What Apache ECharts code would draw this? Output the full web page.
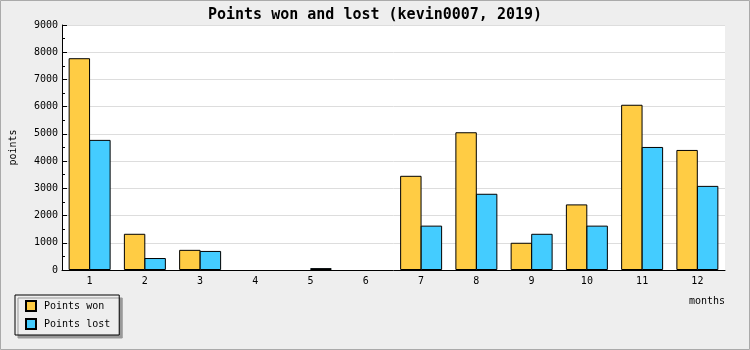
<!DOCTYPE html>
<html>
<head>
<meta charset="utf-8">
<script src="https://cdn.jsdelivr.net/npm/echarts@6/dist/echarts.min.js"></script>
<style>html,body{margin:0;padding:0;background:#eee;}#c{width:750px;height:350px;}</style>
</head>
<body>
<div id="c"></div>
<script>
var months = ['1','2','3','4','5','6','7','8','9','10','11','12'];
var pointsWon = [7780, 1330, 740, 0, 0, 0, 3460, 5060, 1000, 2410, 6070, 4410];
var pointsLost = [4780, 440, 700, 0, 70, 0, 1630, 2800, 1330, 1630, 4520, 3090];
var yTicks = [0, 1000, 2000, 3000, 4000, 5000, 6000, 7000, 8000, 9000];

// zero-height bars are not drawn in the reference
function hideZeros(arr) { return arr.map(function (v) { return v === 0 ? '-' : v; }); }

var FONT = '"DejaVu Sans Mono", monospace';
var chart = echarts.init(document.getElementById('c'), null, {renderer: 'canvas'});
chart.setOption({
  backgroundColor: '#eeeeee',
  animation: false,
  textStyle: {fontFamily: FONT, color: '#000'},
  title: {
    text: 'Points won and lost (kevin0007, 2019)',
    left: 'center', top: 3,
    textStyle: {fontFamily: FONT, fontSize: 15, fontWeight: 'bold', color: '#000'}
  },
  legend: {
    orient: 'vertical',
    left: 15, top: 295,
    padding: [5, 9, 5, 10],
    itemWidth: 10, itemHeight: 10, itemGap: 6,
    icon: 'rect',
    backgroundColor: '#eeeeee',
    borderColor: '#000', borderWidth: 1,
    shadowColor: '#999', shadowBlur: 0, shadowOffsetX: 3, shadowOffsetY: 3,
    textStyle: {fontFamily: FONT, fontSize: 10, lineHeight: 10, color: '#000', padding: [0, 0, 0, 3]},
    data: ['Points won', 'Points lost']
  },
  grid: {left: 61, right: 25, top: 25, bottom: 80, show: true, backgroundColor: '#fff', borderWidth: 0},
  xAxis: {
    type: 'category',
    data: months,
    name: 'months',
    nameLocation: 'end',
    nameGap: 0,
    nameTextStyle: {fontFamily: FONT, fontSize: 10, color: '#000', align: 'right', verticalAlign: 'top', padding: [26, 0, 0, 0]},
    axisLine: {lineStyle: {color: '#000', width: 1}},
    axisTick: {inside: true, length: 5, lineStyle: {color: '#000'}},
    axisLabel: {fontFamily: FONT, fontSize: 10, color: '#000', margin: 6},
    splitLine: {show: false}
  },
  yAxis: {
    type: 'value',
    min: yTicks[0], max: yTicks[yTicks.length - 1], interval: 1000,
    name: 'points',
    nameLocation: 'middle',
    nameGap: 44,
    nameRotate: 90,
    nameTextStyle: {fontFamily: FONT, fontSize: 10, color: '#000'},
    axisLine: {show: true, lineStyle: {color: '#000', width: 1}},
    axisTick: {show: true, inside: true, length: 5, lineStyle: {color: '#000'}},
    minorTick: {show: true, splitNumber: 2, length: 3, lineStyle: {color: '#000'}},
    axisLabel: {fontFamily: FONT, fontSize: 10, color: '#000', margin: 4,
      formatter: function (v) { return String(v); }},
    splitLine: {show: true, lineStyle: {color: '#dddddd', width: 1}}
  },
  series: [
    {
      name: 'Points won', type: 'bar', data: hideZeros(pointsWon),
      barGap: '-4%', barCategoryGap: '24%',
      itemStyle: {color: '#ffcc44', borderColor: '#000', borderWidth: 1}
    },
    {
      name: 'Points lost', type: 'bar', data: hideZeros(pointsLost),
      barGap: '-4%', barCategoryGap: '24%',
      itemStyle: {color: '#44ccff', borderColor: '#000', borderWidth: 1}
    }
  ],
  graphic: [{
    type: 'rect', silent: true, z: 100,
    shape: {x: 0.5, y: 0.5, width: 749, height: 349},
    style: {fill: null, stroke: '#aaaaaa', lineWidth: 1}
  }]
});
</script>
</body>
</html>
